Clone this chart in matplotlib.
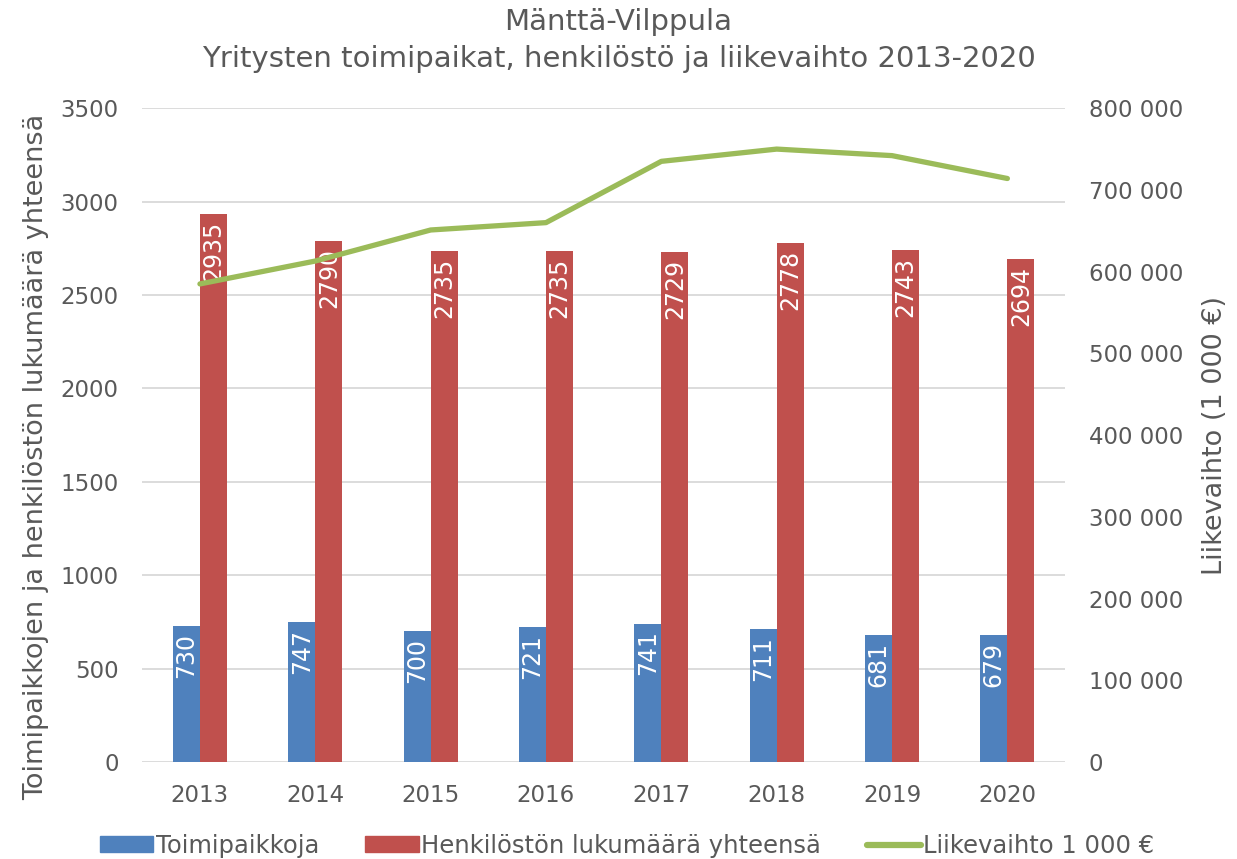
import numpy as np
import matplotlib
matplotlib.use("Agg")
import matplotlib.pyplot as plt
from matplotlib.ticker import FuncFormatter
from matplotlib.lines import Line2D
from matplotlib.patches import Patch

# Data
vuodet = ["2013", "2014", "2015", "2016", "2017", "2018", "2019", "2020"]
toimipaikkoja = [730, 747, 700, 721, 741, 711, 681, 679]
henkilosto = [2935, 2790, 2735, 2735, 2729, 2778, 2743, 2694]
liikevaihto = [585000, 613000, 651000, 660000, 735000, 750000, 742000, 714000]

harmaa = "#595959"
sininen = "#4F81BD"
punainen = "#C0504D"
vihrea = "#9BBB59"

plt.rcParams["font.family"] = ["DejaVu Sans"]

fig = plt.figure(figsize=(12.37, 8.59), dpi=100)
ax = fig.add_axes([0.115, 0.113, 0.746, 0.761])
ax2 = ax.twinx()

x = np.arange(len(vuodet))
w = 0.235
b1 = ax.bar(x - w / 2, toimipaikkoja, w, color=sininen, zorder=2)
b2 = ax.bar(x + w / 2, henkilosto, w, color=punainen, zorder=2)

# arvot palkkien sisään, pystyyn
for bars in (b1, b2):
    for r in bars:
        h = r.get_height()
        ax.annotate(str(int(h)), (r.get_x() + r.get_width() / 2, h),
                    xytext=(0, -5), textcoords="offset points",
                    rotation=90, ha="center", va="top",
                    color="white", fontsize=17, zorder=3)

ax2.plot(x, liikevaihto, color=vihrea, linewidth=3.8, solid_capstyle="round", zorder=4)

ax.set_ylim(0, 3500)
ax.set_yticks(range(0, 3501, 500))
ax2.set_ylim(0, 800000)
ax2.set_yticks(range(0, 800001, 100000))
ax2.yaxis.set_major_formatter(FuncFormatter(lambda v, p: f"{int(v):,}".replace(",", " ")))
ax.set_xlim(-0.5, len(vuodet) - 0.5)
ax.set_xticks(x)
ax.set_xticklabels(vuodet)

ax.grid(axis="y", color="#d9d9d9", linewidth=1.3, zorder=0)
ax.set_axisbelow(True)
for a in (ax, ax2):
    for s in a.spines.values():
        s.set_visible(False)
    a.tick_params(length=0, colors=harmaa, labelsize=16.5)
ax.tick_params(axis="y", pad=17)
ax.tick_params(axis="x", pad=16)
ax2.tick_params(axis="y", pad=17)

ax.set_ylabel("Toimipaikkojen ja henkilöstön lukumäärä yhteensä", color=harmaa, fontsize=19.5)
ax.yaxis.set_label_coords(-0.101, 0.466)
ax2.set_ylabel("Liikevaihto (1 000 €)", color=harmaa, fontsize=19.5, labelpad=14)

fig.suptitle("Mänttä-Vilppula\nYritysten toimipaikat, henkilöstö ja liikevaihto 2013-2020",
             color=harmaa, fontsize=21, y=0.991, linespacing=1.42)

handles = [Patch(color=sininen), Patch(color=punainen),
           Line2D([0], [0], color=vihrea, linewidth=4.5, solid_capstyle="round")]
labels = ["Toimipaikkoja", "Henkilöstön lukumäärä yhteensä", "Liikevaihto 1 000 €"]
leg = fig.legend(handles, labels, loc="lower center", ncol=3, frameon=False,
                 fontsize=17.5, bbox_to_anchor=(0.507, -0.024), handlelength=2.2,
                 handleheight=0.6, handletextpad=0.1, columnspacing=1.9)
for t in leg.get_texts():
    t.set_color(harmaa)

fig.savefig("out.png", dpi=100)
